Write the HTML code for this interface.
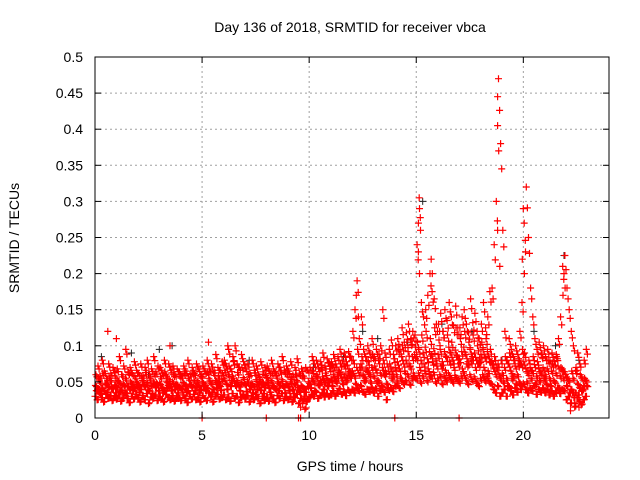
<!DOCTYPE html>
<html><head><meta charset="utf-8"><style>
body{margin:0;background:#fff}
svg{display:block;font-family:"Liberation Sans",sans-serif}
</style></head><body>
<svg id="chart" width="640" height="480" viewBox="0 0 640 480" xmlns="http://www.w3.org/2000/svg">
<rect width="640" height="480" fill="#fff"/>
<text x="350" y="32" font-size="14" text-anchor="middle">Day 136 of 2018, SRMTID for receiver vbca</text>
<text transform="translate(19,238) rotate(-90)" font-size="14" text-anchor="middle">SRMTID / TECUs</text>
<text x="350" y="471" font-size="14" text-anchor="middle">GPS time / hours</text>
<g id="grid"></g><g id="marks"></g><g id="axes"></g>
</svg>
<script>
const xTicks=[0,5,10,15,20];
const yTicks=[0,0.05,0.1,0.15,0.2,0.25,0.3,0.35,0.4,0.45,0.5];
const yTickLabels=["0","0.05","0.1","0.15","0.2","0.25","0.3","0.35","0.4","0.45","0.5"];
const tStart=0, tStep=0.1;
const lowBand=[30,25,35,28,22,33,27,30,24,31,26,32,23,29,35,27,21,30,26,33,28,22,31,25,34,20,29,27,32,24,30,26,22,33,28,25,31,23,29,27,24,32,27,21,30,26,33,25,28,22,31,27,24,35,29,22,30,33,26,28,32,25,29,23,34,27,30,21,28,33,26,31,22,29,25,33,27,20,30,24,29,23,32,26,21,31,27,34,24,30,25,30,22,28,33,20,27,24,12,26,28,33,30,36,27,31,35,29,34,30,32,38,30,35,41,33,37,31,39,36,40,35,42,38,45,36,33,40,37,43,35,41,30,38,44,36,25,39,42,37,45,50,42,55,48,52,60,47,55,58,55,62,50,58,65,52,60,57,63,50,55,60,48,58,52,62,56,50,59,54,50,58,62,55,48,60,53,57,50,45,55,60,52,58,50,48,40,35,45,30,35,40,30,45,38,32,42,36,50,45,48,40,35,42,38,45,33,40,36,42,35,40,32,38,30,36,42,34,40,38,25,30,20,35,15,28,22,18,25,30];
const midBand=[45,40,50,42,38,48,44,52,41,46,43,50,39,47,55,44,40,48,42,51,46,40,52,44,49,38,45,50,43,47,48,42,39,51,45,44,50,40,47,43,41,49,45,38,47,43,52,44,46,40,50,46,42,55,48,40,52,49,45,53,55,48,60,45,58,50,52,44,49,56,46,51,40,48,44,53,47,39,50,43,49,42,52,45,40,50,46,53,43,48,44,50,40,47,52,38,45,42,36,44,48,55,50,58,46,52,57,49,55,51,54,60,52,58,64,55,60,52,62,58,65,58,70,62,75,60,55,66,60,70,58,66,52,62,70,60,48,64,68,60,70,78,68,85,75,80,92,72,85,88,85,95,80,90,98,82,92,88,96,80,88,95,78,92,84,98,90,80,94,86,82,92,98,88,78,95,85,90,80,75,88,95,84,92,82,78,68,60,75,55,62,70,55,75,65,58,72,60,80,74,78,68,62,70,65,74,58,68,62,70,60,68,55,65,52,62,72,58,68,64,45,52,40,55,35,48,42,38,45,52];
const highBand=[60,72,58,80,65,55,75,62,70,58,68,85,60,72,95,64,70,62,78,66,62,75,58,70,80,60,68,85,64,72,70,62,80,58,75,66,72,60,68,64,58,72,65,80,60,70,62,75,68,58,72,65,80,68,75,62,88,70,66,78,80,72,95,68,85,100,75,70,88,78,68,75,62,80,66,72,60,78,64,70,72,65,80,68,62,75,70,85,66,72,65,78,60,70,82,62,68,58,70,66,70,85,75,80,68,78,90,72,82,76,78,88,75,85,95,80,90,78,92,85,120,150,190,110,140,95,85,100,90,110,85,95,80,100,150,90,75,95,108,88,100,110,95,125,105,118,130,108,120,115,240,305,160,140,150,170,200,175,165,130,130,145,120,150,135,160,140,128,155,125,125,140,150,130,118,165,132,145,120,110,130,160,125,140,175,180,240,300,470,380,260,120,80,110,95,85,100,88,120,160,270,320,250,180,140,110,95,105,90,100,85,95,80,90,78,88,110,140,210,225,180,150,120,100,65,90,75,55,80,95];
const mixBand=[38,55,33,62,48,36,58,41,66,35,52,37,60,45,34,63,50,39,57,44,36,58,47,63,39,55,34,61,49,38,57,35,64,42,53,38,60,46,35,58,40,62,36,55,47,64,38,52,35,60,45,38,63,50,36,66,42,58,39,62,66,40,72,52,78,45,63,38,70,48,37,60,45,35,62,40,56,48,34,59,55,36,62,42,58,38,64,45,35,60,38,56,34,60,43,36,58,30,22,50,42,65,38,60,48,70,40,62,45,68,45,70,50,66,75,48,72,55,68,62,80,48,95,70,85,52,68,78,50,88,72,50,88,45,80,65,42,75,55,82,60,95,55,100,65,105,75,110,62,98,105,70,115,75,120,68,110,78,125,72,108,72,120,66,115,78,105,70,125,75,110,68,120,75,105,80,115,70,100,82,105,70,110,65,95,75,85,70,60,80,50,85,45,90,55,80,48,75,40,95,90,50,80,55,85,48,78,52,88,55,48,80,45,75,50,85,42,70,55,60,55,35,65,28,70,32,60,40,55,45];
const extraT=[18.8,18.8,18.85,18.8,18.9,15.15,15.1,15.2,15.1,15.15,20.0,19.95,20.05,20.1,21.9,21.95,21.85,15.7,15.75,12.2,12.3,0.6,1.0,3.5,5.3,6.2,9.6,9.7,22.2,22.4,22.6];
const extraV=[0.445,0.405,0.37,0.26,0.21,0.29,0.27,0.26,0.23,0.2,0.29,0.22,0.2,0.23,0.2,0.18,0.17,0.22,0.2,0.17,0.14,0.12,0.11,0.1,0.105,0.1,0.015,0.02,0.01,0.02,0.015];
const zeroT=[5.0,8.0,9.5,9.6,14.0,17.0];
const darkT=[0.3,1.7,2.5,3.0,3.6,7.2,10.2,11.6,12.5,13.2,14.6,15.3,16.2,17.6,19.0,20.5,21.5,21.9,22.6];
const darkV=[0.085,0.09,0.06,0.095,0.1,0.08,0.07,0.085,0.12,0.11,0.105,0.3,0.13,0.12,0.08,0.12,0.1,0.225,0.08];

const X0=95,X1=609,Y0=418,Y1=57,TMAX=24,VMAX=0.5;
const xs=t=>X0+(t/TMAX)*(X1-X0);
const ys=v=>Y0-(v/VMAX)*(Y0-Y1);
const NS="http://www.w3.org/2000/svg";
const grid=document.getElementById('grid'),marks=document.getElementById('marks'),axes=document.getElementById('axes');
function mk(tag,attrs,parent){const e=document.createElementNS(NS,tag);for(const k in attrs)e.setAttribute(k,attrs[k]);parent.appendChild(e);return e;}
xTicks.forEach(t=>{
 const g=mk('line',{x1:xs(t),x2:xs(t),y1:Y0,y2:Y1,stroke:'#a0a0a0','stroke-dasharray':'2,3'},grid);
 
 
 const l=mk('text',{x:xs(t),y:Y0+22,'font-size':14,'text-anchor':'middle'},axes);l.textContent=String(t);
 
 
 mk('line',{x1:xs(t),x2:xs(t),y1:Y0,y2:Y0-6,stroke:'#000'},axes);
 mk('line',{x1:xs(t),x2:xs(t),y1:Y1,y2:Y1+6,stroke:'#000'},axes);
});
yTicks.forEach((v,i)=>{
 const g=mk('line',{x1:X0,x2:X1,y1:ys(v),y2:ys(v),stroke:'#a0a0a0','stroke-dasharray':'2,3'},grid);
 
 
 const l=mk('text',{x:X0-12,y:ys(v)+5,'font-size':14,'text-anchor':'end'},axes);l.textContent=yTickLabels[i];
 
 
 mk('line',{x1:X0,x2:X0+6,y1:ys(v),y2:ys(v),stroke:'#000'},axes);
 mk('line',{x1:X1,x2:X1-6,y1:ys(v),y2:ys(v),stroke:'#000'},axes);
});
const frame=mk('rect',{x:X0,y:Y1,width:X1-X0,height:Y0-Y1,fill:'none',stroke:'#000'},axes);


let dDark='',dRed='';
const plus=(t,v)=>{const x=xs(t),y=ys(v);return `M${(x-3.5).toFixed(1)} ${y.toFixed(1)}h7M${x.toFixed(1)} ${(y-3.5).toFixed(1)}v7`;};
darkT.forEach((t,i)=>{dDark+=plus(t,darkV[i]);});
[lowBand,midBand,highBand,mixBand].forEach((arr,k)=>arr.forEach((v,i)=>{
 const t=tStart+i*tStep+k*0.02;
 dRed+=plus(t,v/1000);
 dRed+=plus(t+0.05,(v*0.9+3)/1000);
}));
extraT.forEach((t,i)=>{dRed+=plus(t,extraV[i]);});
zeroT.forEach(t=>{dRed+=plus(t,0);});
const pd=mk('path',{d:dDark,stroke:'#222',fill:'none','stroke-width':1},marks);


const pr=mk('path',{d:dRed,stroke:'#ff0000',fill:'none','stroke-width':1.2},marks);


</script>
</body></html>
